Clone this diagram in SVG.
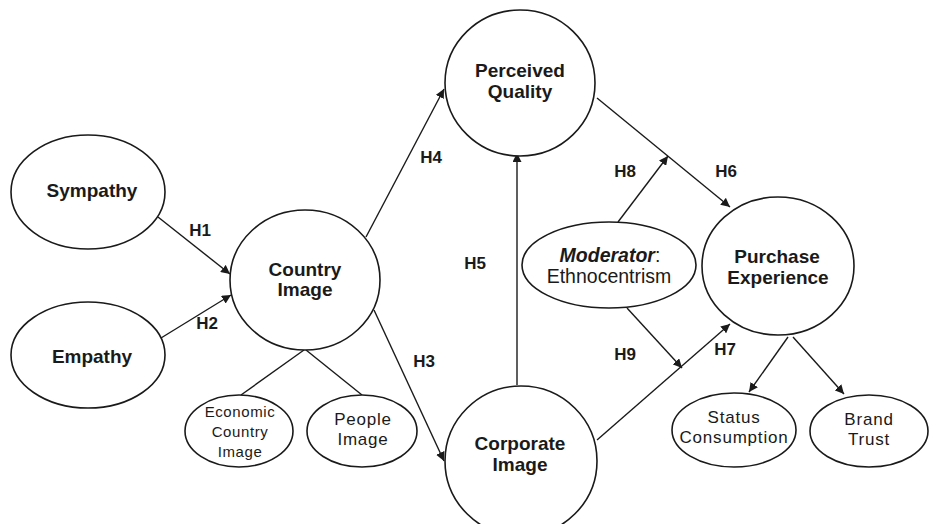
<svg xmlns="http://www.w3.org/2000/svg" width="929" height="524" viewBox="0 0 929 524">
<style>
.n{fill:#fff;stroke:#1a1a1a;stroke-width:1.6}
.t{font-family:"Liberation Sans",Arial,sans-serif;font-size:19px;font-weight:bold;fill:#1a1a1a;text-anchor:middle}
.s{font-family:"Liberation Sans",Arial,sans-serif;font-size:17px;letter-spacing:0.8px;fill:#1a1a1a;text-anchor:middle}
.e{font-family:"Liberation Sans",Arial,sans-serif;font-size:15px;letter-spacing:0.6px;fill:#1a1a1a;text-anchor:middle}
.m{font-family:"Liberation Sans",Arial,sans-serif;font-size:19.5px;fill:#1a1a1a;text-anchor:middle}
.h{font-family:"Liberation Sans",Arial,sans-serif;font-size:17px;font-weight:bold;fill:#1a1a1a;text-anchor:middle}
.c{stroke:#1a1a1a;stroke-width:1.4;fill:none}
.a{marker-end:url(#ah)}
</style>
<defs>
<marker id="ah" viewBox="0 0 10 10" refX="10" refY="5" markerWidth="9" markerHeight="9" markerUnits="userSpaceOnUse" orient="auto">
<path d="M0,0 L10,5 L0,10 z" fill="#1a1a1a"/>
</marker>
</defs>
<rect width="929" height="524" fill="#fff"/>
<g id="connectors">
<line class="c a" x1="158" y1="217" x2="230" y2="274"/>
<line class="c a" x1="161" y1="338" x2="231" y2="295"/>
<line class="c a" x1="366" y1="237" x2="444" y2="89"/>
<line class="c a" x1="374" y1="310" x2="444" y2="461"/>
<line class="c a" x1="517" y1="385" x2="517" y2="153"/>
<line class="c a" x1="597" y1="98" x2="730" y2="207"/>
<line class="c a" x1="618" y1="222" x2="668" y2="156"/>
<line class="c a" x1="597" y1="440" x2="730" y2="324"/>
<line class="c a" x1="627" y1="308" x2="682" y2="368"/>
<line class="c a" x1="788" y1="337" x2="749" y2="392"/>
<line class="c a" x1="793" y1="337" x2="844" y2="394"/>
<line class="c" x1="304" y1="350" x2="241" y2="395"/>
<line class="c" x1="306" y1="350" x2="362" y2="395"/>
<text class="h" x="200" y="236">H1</text>
<text class="h" x="207" y="329">H2</text>
<text class="h" x="431" y="163">H4</text>
<text class="h" x="424" y="367">H3</text>
<text class="h" x="475" y="269">H5</text>
<text class="h" x="625" y="177">H8</text>
<text class="h" x="726" y="177">H6</text>
<text class="h" x="625" y="360">H9</text>
<text class="h" x="725" y="355">H7</text>
</g>
<g id="sympathy">
<ellipse class="n" cx="88" cy="192" rx="77" ry="57"/>
<text class="t" x="92" y="197">Sympathy</text>
</g>
<g id="empathy">
<ellipse class="n" cx="88" cy="355" rx="77" ry="53"/>
<text class="t" x="92" y="363">Empathy</text>
</g>
<g id="country-image">
<ellipse class="n" cx="305" cy="280" rx="75" ry="70"/>
<text class="t" x="305" y="276">Country</text>
<text class="t" x="305" y="296">Image</text>
</g>
<g id="economic-country-image">
<ellipse class="n" cx="239" cy="431" rx="54" ry="36"/>
<text class="e" x="240" y="417">Economic</text>
<text class="e" x="240" y="437">Country</text>
<text class="e" x="240" y="457">Image</text>
</g>
<g id="people-image">
<ellipse class="n" cx="362" cy="431" rx="55" ry="36"/>
<text class="s" x="363" y="425">People</text>
<text class="s" x="363" y="445">Image</text>
</g>
<g id="perceived-quality">
<ellipse class="n" cx="520" cy="83" rx="75" ry="73"/>
<text class="t" x="520" y="77">Perceived</text>
<text class="t" x="520" y="98">Quality</text>
</g>
<g id="corporate-image">
<ellipse class="n" cx="521" cy="461" rx="76" ry="75"/>
<text class="t" x="520" y="450">Corporate</text>
<text class="t" x="520" y="471">Image</text>
</g>
<g id="moderator">
<ellipse class="n" cx="609" cy="265" rx="87" ry="43"/>
<text class="m" x="610" y="262"><tspan font-weight="bold" font-style="italic">Moderator</tspan>:</text>
<text class="m" x="609" y="283">Ethnocentrism</text>
</g>
<g id="purchase-experience">
<ellipse class="n" cx="778" cy="266" rx="76" ry="69"/>
<text class="t" x="777" y="263">Purchase</text>
<text class="t" x="778" y="284">Experience</text>
</g>
<g id="status-consumption">
<ellipse class="n" cx="734" cy="430" rx="62" ry="37"/>
<text class="s" x="734" y="423">Status</text>
<text class="s" x="734" y="443">Consumption</text>
</g>
<g id="brand-trust">
<ellipse class="n" cx="869" cy="431" rx="59" ry="36"/>
<text class="s" x="869" y="425">Brand</text>
<text class="s" x="869" y="445">Trust</text>
</g>
</svg>
